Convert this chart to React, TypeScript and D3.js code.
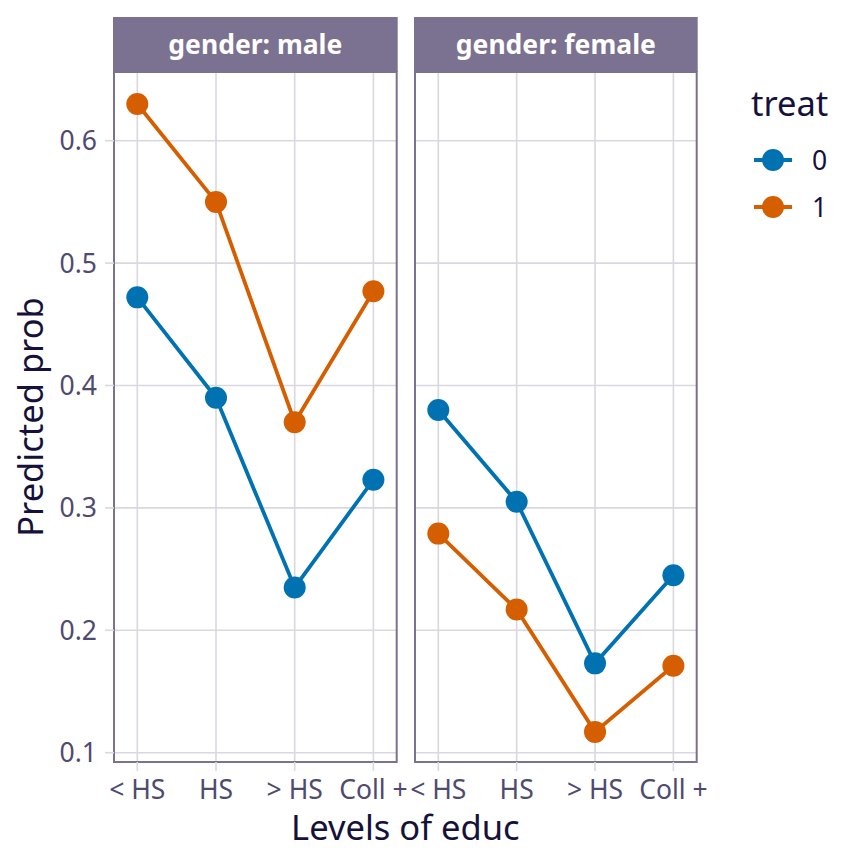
import React, { useEffect } from 'react'
import { scaleLinear, scalePoint, line } from 'd3'

const educLevels = ['< HS', 'HS', '> HS', 'Coll +']
const genders = ['male', 'female']
const treatLevels = ['0', '1']
const yTicks = [0.1, 0.2, 0.3, 0.4, 0.5, 0.6]

// predicted probabilities, one array per gender x treat
const maleTreat0 = [0.472, 0.390, 0.235, 0.323]
const maleTreat1 = [0.630, 0.550, 0.370, 0.477]
const femaleTreat0 = [0.380, 0.305, 0.173, 0.245]
const femaleTreat1 = [0.279, 0.217, 0.117, 0.171]

const seriesByGender: Record<string, number[][]> = {
    male: [maleTreat0, maleTreat1],
    female: [femaleTreat0, femaleTreat1],
}

const treatColors = ['#0072B2', '#D55E00']
const frameColor = '#7b7190'
const gridColor = '#d9d7df'
const tickText = '#4f4a70'
const titleText = '#15113a'
const font = "'Noto Sans', sans-serif"

const App = () => {
    useEffect(() => {
        document.body.style.margin = '0'
    }, [])

    const width = 864
    const height = 865
    const panelTop = 72
    const panelBottom = 762
    const stripTop = 17
    const panels = [
        { left: 114, right: 396.7 },
        { left: 415, right: 696.7 },
    ]

    const y = scaleLinear().domain([0.1, 0.6]).range([752.7, 140.7])

    return (
        <svg width={width} height={height} style={{ display: 'block', fontFamily: font }}>
            <rect width={width} height={height} fill='white' />
            {genders.map((g, gi) => {
                const p = panels[gi]
                const x = scalePoint<string>()
                    .domain(educLevels)
                    .range([p.left + 23.3, p.right - 23.3])
                const path = line<number>()
                    .x((_, i) => x(educLevels[i]) as number)
                    .y(d => y(d))
                return (
                    <g key={g}>
                        {/* grid */}
                        {yTicks.map(t => (
                            <line key={'h' + t} x1={p.left} x2={p.right} y1={y(t)} y2={y(t)}
                                stroke={gridColor} strokeWidth={1.6} />
                        ))}
                        {educLevels.map(c => (
                            <line key={'v' + c} x1={x(c)} x2={x(c)} y1={panelTop} y2={panelBottom}
                                stroke={gridColor} strokeWidth={1.6} />
                        ))}
                        {/* series */}
                        {seriesByGender[g].map((vals, si) => (
                            <g key={si}>
                                <path d={path(vals) || ''} fill='none' stroke={treatColors[si]} strokeWidth={3.8} />
                                {vals.map((v, i) => (
                                    <circle key={i} cx={x(educLevels[i])} cy={y(v)} r={11} fill={treatColors[si]} />
                                ))}
                            </g>
                        ))}
                        {/* frame */}
                        <rect x={p.left} y={panelTop} width={p.right - p.left} height={panelBottom - panelTop}
                            fill='none' stroke={frameColor} strokeWidth={2} />
                        {/* strip */}
                        <rect x={p.left - 1} y={stripTop} width={p.right - p.left + 2} height={panelTop - stripTop}
                            fill={frameColor} />
                        <text x={(p.left + p.right) / 2} y={(stripTop + panelTop) / 2} dy='0.36em'
                            textAnchor='middle' fill='white' fontWeight='bold' fontSize={26.5}>
                            {'gender: ' + g}
                        </text>
                        {/* x axis */}
                        {educLevels.map(c => (
                            <g key={'xt' + c}>
                                <line x1={x(c)} x2={x(c)} y1={panelBottom} y2={panelBottom + 9}
                                    stroke={gridColor} strokeWidth={1.6} />
                                <text x={x(c)} y={panelBottom + 37} textAnchor='middle' fill={tickText} fontSize={26.5}>
                                    {c}
                                </text>
                            </g>
                        ))}
                    </g>
                )
            })}
            {/* y axis */}
            {yTicks.map(t => (
                <g key={'yt' + t}>
                    <line x1={105} x2={114} y1={y(t)} y2={y(t)} stroke={gridColor} strokeWidth={1.6} />
                    <text x={97} y={y(t)} dy='0.36em' textAnchor='end' fill={tickText} fontSize={26.5}>
                        {t.toFixed(1)}
                    </text>
                </g>
            ))}
            <text transform={`translate(43, ${(panelTop + panelBottom) / 2}) rotate(-90)`} textAnchor='middle'
                fill={titleText} fontSize={34.5}>
                Predicted prob
            </text>
            <text x={(panels[0].left + panels[1].right) / 2} y={840} textAnchor='middle' fill={titleText} fontSize={34.5}>
                Levels of educ
            </text>
            {/* legend */}
            <text x={751} y={116} fill={titleText} fontSize={34.5}>treat</text>
            {treatLevels.map((lv, i) => {
                const ly = 160 + i * 47
                return (
                    <g key={'lg' + lv}>
                        <line x1={754} x2={792} y1={ly} y2={ly} stroke={treatColors[i]} strokeWidth={3.8} />
                        <circle cx={773} cy={ly} r={11} fill={treatColors[i]} />
                        <text x={812} y={ly} dy='0.36em' fill={titleText} fontSize={26.5}>{lv}</text>
                    </g>
                )
            })}
        </svg>
    )
}

export default App
